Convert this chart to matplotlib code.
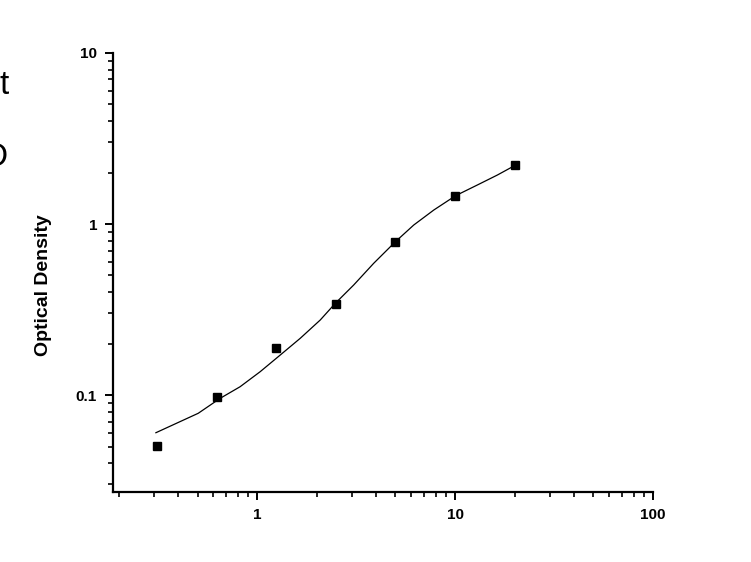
import numpy as np
import matplotlib
matplotlib.use("Agg")
import matplotlib.pyplot as plt
from matplotlib.ticker import LogLocator, NullFormatter, FixedLocator, FixedFormatter

plt.rcParams['font.family'] = ['Liberation Sans', 'DejaVu Sans']

# standards (concentration) and measured OD
conc = [0.3125, 0.625, 1.25, 2.5, 5, 10, 20]
od = [0.0503, 0.0973, 0.189, 0.340, 0.788, 1.464, 2.213]

# fitted curve
curve_x = [0.308, 0.504, 0.650, 0.820, 1.036, 1.308, 1.651, 2.084, 2.483,
           3.074, 3.880, 4.996, 6.185, 7.810, 10.06, 12.96, 16.36, 20.25]
curve_y = [0.0602, 0.0782, 0.0956, 0.1118, 0.1369, 0.1713, 0.2146, 0.2746, 0.3438,
           0.4397, 0.5891, 0.7880, 0.9867, 1.2075, 1.4639, 1.691, 1.934, 2.213]

xticks = [1, 10, 100]
xlabels = ['1', '10', '100']
yticks = [0.1, 1, 10]
ylabels = ['0.1', '1', '10']

fig = plt.figure(figsize=(7.51, 5.62), dpi=100)
ax = fig.add_axes([113 / 751, 70 / 562, (653 - 113) / 751, (492 - 53) / 562])

ax.plot(curve_x, curve_y, color='black', lw=0.9)
ax.plot(conc, od, 's', color='black', ms=5.5)

ax.set_xscale('log')
ax.set_yscale('log')
ax.set_xlim(0.187, 100)
ax.set_ylim(0.0271, 10)

ax.xaxis.set_major_locator(FixedLocator(xticks))
ax.xaxis.set_major_formatter(FixedFormatter(xlabels))
ax.yaxis.set_major_locator(FixedLocator(yticks))
ax.yaxis.set_major_formatter(FixedFormatter(ylabels))
ax.xaxis.set_minor_locator(LogLocator(base=10, subs=np.arange(2, 10), numticks=20))
ax.yaxis.set_minor_locator(LogLocator(base=10, subs=np.arange(2, 10), numticks=20))
ax.xaxis.set_minor_formatter(NullFormatter())
ax.yaxis.set_minor_formatter(NullFormatter())

for s in ['top', 'right']:
    ax.spines[s].set_visible(False)
for s in ['left', 'bottom']:
    ax.spines[s].set_linewidth(1.6)

ax.tick_params(which='major', length=6, width=1.4, direction='out', labelsize=11, pad=5.5)
ax.tick_params(which='minor', length=3.5, width=1.2, direction='out')
for lbl in ax.get_xticklabels() + ax.get_yticklabels():
    lbl.set_fontweight('bold')

fig.text(44 / 751, 1 - 285.5 / 562, 'Optical Density', rotation=90,
         ha='center', va='center', fontsize=14, fontweight='bold')

# text clipped at the left edge of the source image
fig.text(9 / 751, 1 - 85 / 562, 't', ha='right', va='center', fontsize=24)
fig.text(9 / 751, 1 - 158 / 562, 'OD', ha='right', va='center', fontsize=24)

fig.savefig('out.png', dpi=100)
